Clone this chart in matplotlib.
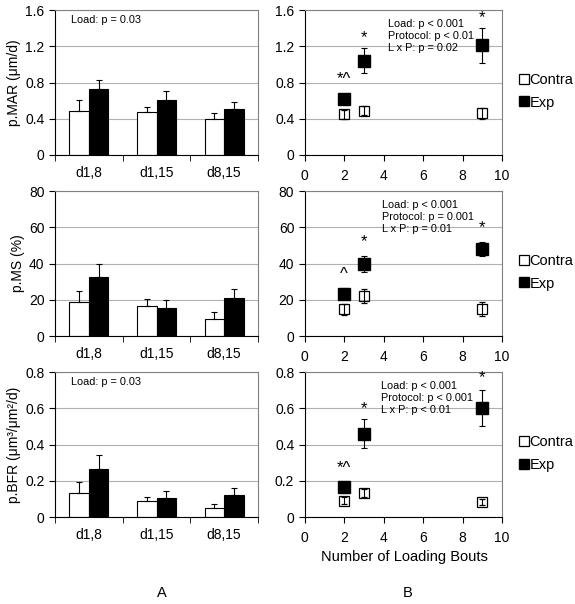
import numpy as np
import matplotlib
matplotlib.use("Agg")
import matplotlib.pyplot as plt
from matplotlib.lines import Line2D

plt.rcParams['font.family'] = ['Liberation Sans', 'DejaVu Sans']
plt.rcParams['font.size'] = 10

groups = ["d1,8", "d1,15", "d8,15"]
bouts = [2, 3, 9]

# left column: bar means and (upper) errors
mar_contra = [0.49, 0.47, 0.40]
mar_contra_err = [0.12, 0.06, 0.06]
mar_exp = [0.73, 0.61, 0.51]
mar_exp_err = [0.10, 0.10, 0.08]

ms_contra = [18.7, 16.3, 9.4]
ms_contra_err = [5.9, 4.2, 4.0]
ms_exp = [32.7, 15.6, 20.9]
ms_exp_err = [7.1, 4.2, 5.1]

bfr_contra = [0.131, 0.087, 0.050]
bfr_contra_err = [0.061, 0.026, 0.024]
bfr_exp = [0.266, 0.105, 0.120]
bfr_exp_err = [0.075, 0.041, 0.039]

# right column: means and errors by number of loading bouts
mar_b_contra = [0.45, 0.49, 0.46]
mar_b_contra_err = [0.05, 0.05, 0.06]
mar_b_exp = [0.62, 1.04, 1.21]
mar_b_exp_err = [0.04, 0.14, 0.19]

ms_b_contra = [14.8, 22.0, 14.8]
ms_b_contra_err = [3.0, 4.0, 4.0]
ms_b_exp = [23.3, 39.7, 47.9]
ms_b_exp_err = [3.0, 4.5, 4.0]

bfr_b_contra = [0.090, 0.133, 0.083]
bfr_b_contra_err = [0.02, 0.02, 0.015]
bfr_b_exp = [0.164, 0.46, 0.60]
bfr_b_exp_err = [0.03, 0.08, 0.10]

ylabels = ["p.MAR (\u03bcm/d)", "p.MS (%)", "p.BFR (\u03bcm\u00b3/\u03bcm\u00b2/d)"]
ylims = [1.6, 80, 0.8]
yticks = [[0, 0.4, 0.8, 1.2, 1.6], [0, 20, 40, 60, 80], [0, 0.2, 0.4, 0.6, 0.8]]
yticklabels = [["0", "0.4", "0.8", "1.2", "1.6"], ["0", "20", "40", "60", "80"],
               ["0", "0.2", "0.4", "0.6", "0.8"]]
left_notes = ["Load: p = 0.03", "", "Load: p = 0.03"]
right_notes = ["Load: p < 0.001\nProtocol: p < 0.01\nL x P: p = 0.02",
               "Load: p < 0.001\nProtocol: p = 0.001\nL x P: p = 0.01",
               "Load: p < 0.001\nProtocol: p < 0.001\nL x P: p < 0.01"]
right_note_x = [0.42, 0.39, 0.385]
sig_marks = [["*^", "*", "*"], ["^", "*", "*"], ["*^", "*", "*"]]
sig_y = [[0.83, 1.29, 1.52], [34, 52, 60], [0.27, 0.60, 0.77]]

left_data = [(mar_contra, mar_contra_err, mar_exp, mar_exp_err),
             (ms_contra, ms_contra_err, ms_exp, ms_exp_err),
             (bfr_contra, bfr_contra_err, bfr_exp, bfr_exp_err)]
right_data = [(mar_b_contra, mar_b_contra_err, mar_b_exp, mar_b_exp_err),
              (ms_b_contra, ms_b_contra_err, ms_b_exp, ms_b_exp_err),
              (bfr_b_contra, bfr_b_contra_err, bfr_b_exp, bfr_b_exp_err)]

fig = plt.figure(figsize=(5.75, 6.04), dpi=100)
bottoms = [0.7434, 0.4437, 0.144]
h = 0.240
grid_c = "#b0b0b0"
frame_c = "#808080"

legend_handles = [
    Line2D([], [], marker="s", ls="none", mfc="white", mec="black", ms=7, mew=0.9),
    Line2D([], [], marker="s", ls="none", mfc="black", mec="black", ms=7),
]

for i in range(3):
    axl = fig.add_axes([0.0957, bottoms[i], 0.353, h])
    axr = fig.add_axes([0.530, bottoms[i], 0.343, h])

    c, ce, e, ee = left_data[i]
    x = np.arange(len(groups))
    w = 0.29
    axl.bar(x - w / 2, c, w, color="white", edgecolor="black", linewidth=0.8, zorder=2)
    axl.bar(x + w / 2, e, w, color="black", edgecolor="black", linewidth=0.8, zorder=2)
    axl.errorbar(x - w / 2, c, yerr=[np.zeros(3), ce], fmt="none", ecolor="black",
                 elinewidth=0.8, capsize=2.5, capthick=0.8, zorder=3)
    axl.errorbar(x + w / 2, e, yerr=[np.zeros(3), ee], fmt="none", ecolor="black",
                 elinewidth=0.8, capsize=2.5, capthick=0.8, zorder=3)
    axl.set_xlim(-0.5, 2.5)
    axl.set_xticks(x)
    axl.set_xticklabels(groups)
    axl.set_xticks([-0.5, 0.5, 1.5, 2.5], minor=True)
    axl.tick_params(axis="x", which="major", length=0, pad=8)
    axl.tick_params(axis="x", which="minor", length=4, direction="out")
    axl.set_ylabel(ylabels[i], fontsize=10, labelpad=3)
    if left_notes[i]:
        axl.text(0.08, 0.93, left_notes[i], transform=axl.transAxes, fontsize=7.8,
                 ha="left", va="center")

    c, ce, e, ee = right_data[i]
    axr.errorbar(bouts, c, yerr=ce, fmt="s", color="black", mfc="none", mec="black",
                 ms=7, mew=0.9, elinewidth=0.8, capsize=2.5, capthick=0.8, zorder=3)
    axr.errorbar(bouts, e, yerr=ee, fmt="s", color="black", mfc="black", mec="black",
                 ms=9, elinewidth=0.8, capsize=2.5, capthick=0.8, zorder=4)
    for b, s, yy in zip(bouts, sig_marks[i], sig_y[i]):
        axr.text(b, yy, s, ha="center", va="center", fontsize=12)
    axr.text(right_note_x[i], 0.935, right_notes[i], transform=axr.transAxes,
             fontsize=7.8, ha="left", va="top", linespacing=1.2)
    axr.set_xlim(0, 10)
    axr.set_xticks([0, 2, 4, 6, 8, 10])
    axr.tick_params(axis="x", length=4, direction="out", pad=6)
    axr.legend(legend_handles, ["Contra", "Exp"], loc="center left",
               bbox_to_anchor=(1.05, 0.44), frameon=False,
               handlelength=0.6, handletextpad=0.1, labelspacing=0.6,
               borderpad=0, fontsize=10.5)

    for ax in (axl, axr):
        ax.set_ylim(0, ylims[i])
        ax.set_yticks(yticks[i])
        ax.set_yticklabels(yticklabels[i])
        ax.tick_params(axis="y", length=4, direction="out")
        ax.yaxis.grid(True, color=grid_c, linewidth=0.8, zorder=0)
        ax.set_axisbelow(True)
        ax.spines["top"].set_color(frame_c)
        ax.spines["right"].set_color(frame_c)
        ax.spines["left"].set_color("black")
        ax.spines["bottom"].set_color("black")

fig.text(0.703, 1 - 557 / 604, "Number of Loading Bouts", ha="center", va="center",
         fontsize=10.5)
fig.text(162 / 575, 1 - 593 / 604, "A", ha="center", va="center", fontsize=10.5)
fig.text(408 / 575, 1 - 593 / 604, "B", ha="center", va="center", fontsize=10.5)

fig.savefig("out.png", dpi=100)
